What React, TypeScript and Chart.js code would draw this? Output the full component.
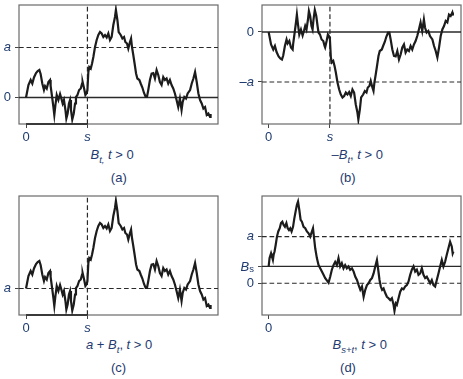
import React, { useEffect, useRef } from "react";
import { Chart, registerables } from "chart.js";

Chart.register(...registerables);

// ---- data ----
// Brownian path B_t used in panels (a), (b), (c); t in [0, 100], value in units of a
const PATH_T = [0,1.3,2.5,3.4,4.3,5.4,6.3,7.2,7.9,8.8,9.7,10.3,11.2,12.1,13,13.3,14.1,14.8,15.3,15.9,16.6,17.5,18.4,19.1,19.8,20.5,21.3,21.8,22.5,23.2,23.8,24.3,25,25.8,26.5,27,27.8,28.7,29.6,30.3,30.6,31.4,32.1,32.8,33.2,33.7,34.2,35,35.7,36.4,37.3,38.2,39.1,40,40.9,41.8,42.7,43.6,44.5,45.4,46.3,47.2,48.1,48.6,49.4,50.1,51.2,52.1,53,53.7,54.6,55.3,56.2,56.8,57.3,58,58.7,59.5,60.2,61.3,62,62.9,63.8,64.7,65.4,66.1,67,67.9,68.8,69.7,70.6,71.5,72.4,73.3,74.2,75.1,76,76.9,77.8,78.7,79.6,80.5,81.4,82.3,83.2,84.1,84.7,85.6,86.5,87.4,88.7,89.6,90.5,91.4,92.3,93.2,94.1,95,95.9,96.8,97.7,98.6,99.5,99.8];
const PATH_B = [0,0.25,0.35,0.28,0.40,0.49,0.53,0.55,0.47,0.28,0.15,0.23,0.18,0.31,0.35,0.23,0.01,-0.19,-0.35,-0.15,0.05,-0.05,0.07,-0.02,-0.12,-0.05,-0.25,-0.42,-0.32,-0.12,-0.05,-0.25,-0.44,-0.32,-0.12,0.01,0.05,0.15,0.18,0.28,0.31,0.18,0.05,0.09,0.15,0.51,0.61,0.58,0.68,0.81,1.01,1.15,1.25,1.31,1.28,1.21,1.25,1.20,1.28,1.15,1.21,1.45,1.61,1.75,1.55,1.31,1.25,1.18,1.21,1.11,1.08,0.98,1.11,1.18,1.01,0.85,0.68,0.48,0.38,0.35,0.28,0.20,0.09,0.01,0.01,0.15,0.35,0.48,0.49,0.38,0.55,0.45,0.31,0.25,0.41,0.35,0.38,0.28,0.35,0.25,0.18,0.08,-0.05,-0.19,-0.02,-0.25,-0.09,0.01,-0.02,0.08,0.15,0.28,0.38,0.51,0.31,0.08,-0.05,-0.12,-0.22,-0.19,-0.35,-0.32,-0.39,-0.33];

// Path B_{s+t} of panel (d)
const D_T = [0,0.5,1.3,1.8,2.3,2.7,3.2,3.8,4.5,5.2,6,6.7,7.4,8.1,8.8,9.6,10.3,11,11.7,12.4,13.2,13.9,14.6,15.3,15.9,16.6,17.3,18,18.9,19.8,20.7,21.6,22.5,23.4,24,24.5,25.2,26.1,27,27.9,28.8,29.7,30.6,31.5,32.4,33.3,34.2,35.1,36,36.9,37.8,38.7,39.6,40.5,41.4,42.3,43.2,44.1,45.1,46,46.9,47.8,48.7,49.6,50.5,51.4,52.3,53.2,54.1,55,55.9,56.8,57.7,58.6,59.3,60,60.7,61.4,62.2,63.1,64,64.9,65.8,66.7,67.6,68.1,68.8,69.4,70.3,71.2,72.1,73,73.9,74.8,75.7,76.6,77.5,78.4,79.3,80.2,81.1,82,82.9,83.8,84.7,85.6,86.5,87.4,88.3,89.2,90.1,91,91.9,92.8,93.7,94.6,95.5,96.4,97.3,98.2,99.1,99.6,100];
const D_V = [0.36,0.54,0.64,0.57,0.50,0.61,0.68,0.82,1.00,1.11,1.18,1.29,1.32,1.25,1.21,1.29,1.18,1.14,1.18,1.11,1.21,1.39,1.54,1.68,1.75,1.57,1.36,1.32,1.21,1.18,1.11,1.07,1.00,1.11,1.18,1.00,0.75,0.54,0.39,0.32,0.25,0.18,0.11,0.06,0.01,0.14,0.29,0.39,0.46,0.39,0.54,0.36,0.43,0.32,0.39,0.32,0.36,0.29,0.32,0.25,0.14,0.07,-0.04,-0.14,-0.07,-0.29,-0.14,-0.04,0.00,0.07,0.11,0.21,0.36,0.50,0.29,0.07,-0.07,-0.14,-0.11,-0.21,-0.29,-0.32,-0.36,-0.32,-0.46,-0.59,-0.43,-0.46,-0.32,-0.18,-0.11,-0.13,-0.07,-0.04,0.04,0.18,0.29,0.36,0.25,0.29,0.18,0.21,0.32,0.18,0.11,0.14,0.07,0.00,0.07,-0.04,-0.07,0.07,0.21,0.36,0.50,0.36,0.46,0.61,0.75,0.89,0.79,0.64,0.68];

const S = 33.2; // time s
const A = 1; // level a
const BS = 0.36; // level B_s in panel (d)

const X_TICKS_S = [0, S];
const X_LABELS_S = ["0", "s"];
const X_TICKS_D = [0];
const X_LABELS_D = ["0"];
const Y_TICKS_A = [0, A];
const Y_LABELS_A = ["0", "a"];
const Y_TICKS_B = [0, -A];
const Y_LABELS_B = ["0", "\u2013a"];
const Y_TICKS_C = [A];
const Y_LABELS_C = ["a"];
const Y_TICKS_D = [0, BS, A];
const Y_LABELS_D = ["0", "", "a"];

const FONT = '"Liberation Sans", Arial, Helvetica, sans-serif';
const NAVY = "#1f3b6f";
const INK = "#1c1c1c";

const zip = (t: number[], v: number[]) => t.map((x, i) => ({ x, y: v[i] }));

type PanelCfg = {
  left: number; top: number; w: number; h: number;
  yW: number; padTop: number; padRight: number; xH: number;
  xMin: number; xMax: number; yMin: number; yMax: number;
  t: number[]; v: number[];
  solid: number[]; dashed: number[]; vDash?: number; seg?: boolean;
  yTicks: number[]; yLabels: string[]; xTicks: number[]; xLabels: string[];
  subLabel?: boolean;
};

const PANELS: PanelCfg[] = [
  {
    left: 0, top: 0, w: 231, h: 145, yW: 19, padTop: 5, padRight: 13, xH: 21,
    xMin: -3.8, xMax: 103.8, yMin: -0.53, yMax: 1.85,
    t: PATH_T, v: PATH_B, solid: [0], dashed: [A], vDash: S, seg: true,
    yTicks: Y_TICKS_A, yLabels: Y_LABELS_A, xTicks: X_TICKS_S, xLabels: X_LABELS_S,
  },
  {
    left: 232, top: 0, w: 231, h: 145, yW: 30, padTop: 5, padRight: 2, xH: 21,
    xMin: -3.6, xMax: 104.2, yMin: -1.84, yMax: 0.54,
    t: PATH_T, v: PATH_B.map((b) => -b), solid: [0], dashed: [-A], vDash: S,
    yTicks: Y_TICKS_B, yLabels: Y_LABELS_B, xTicks: X_TICKS_S, xLabels: X_LABELS_S,
  },
  {
    left: 0, top: 190, w: 231, h: 145, yW: 19, padTop: 6, padRight: 13, xH: 20,
    xMin: -3.8, xMax: 103.8, yMin: A - 0.53, yMax: A + 1.85,
    t: PATH_T, v: PATH_B.map((b) => A + b), solid: [], dashed: [A], vDash: S, seg: true,
    yTicks: Y_TICKS_C, yLabels: Y_LABELS_C, xTicks: X_TICKS_S, xLabels: X_LABELS_S,
  },
  {
    left: 232, top: 190, w: 231, h: 145, yW: 30, padTop: 6, padRight: 2, xH: 20,
    xMin: -3.6, xMax: 104.1, yMin: -0.68, yMax: 1.87,
    t: D_T, v: D_V, solid: [BS], dashed: [A, 0],
    yTicks: Y_TICKS_D, yLabels: Y_LABELS_D, xTicks: X_TICKS_D, xLabels: X_LABELS_D,
    subLabel: true,
  },
];

const noPad = (scale: any) => {
  scale.paddingTop = 0;
  scale.paddingBottom = 0;
  scale.paddingLeft = 0;
  scale.paddingRight = 0;
};

function Panel({ cfg }: { cfg: PanelCfg }) {
  const ref = useRef<HTMLCanvasElement | null>(null);
  useEffect(() => {
    if (!ref.current) return;
    const datasets: any[] = [];
    datasets.push({
      data: zip(cfg.t, cfg.v),
      borderColor: INK,
      borderWidth: 2.2,
      pointRadius: 0,
      tension: 0,
      borderJoinStyle: "miter",
      order: 0,
    });
    cfg.solid.forEach((y) =>
      datasets.push({
        data: [{ x: cfg.xMin, y }, { x: cfg.xMax, y }],
        borderColor: "#2a2a2a", borderWidth: 1.3, pointRadius: 0, order: 1,
      })
    );
    cfg.dashed.forEach((y) =>
      datasets.push({
        data: [{ x: cfg.xMin, y }, { x: cfg.xMax, y }],
        borderColor: "#2a2a2a", borderWidth: 1.2, borderDash: [4.7, 2.8], pointRadius: 0, order: 1,
      })
    );
    if (cfg.vDash !== undefined) {
      datasets.push({
        data: [{ x: cfg.vDash, y: cfg.yMin }, { x: cfg.vDash, y: cfg.yMax }],
        borderColor: "#2a2a2a", borderWidth: 1.2, borderDash: [4.7, 2.8], pointRadius: 0, order: 1,
      });
    }
    if (cfg.seg) {
      datasets.push({
        data: [{ x: 0, y: cfg.yMin }, { x: S, y: cfg.yMin }],
        borderColor: "#3a3a3a", borderWidth: 2, pointRadius: 0, order: 1, clip: false,
      });
    }

    const framePlugin = {
      id: "frame",
      beforeDatasetsDraw(chart: any) {
        const { ctx, chartArea: ca } = chart;
        ctx.save();
        ctx.strokeStyle = "#6a6a6a";
        ctx.lineWidth = 1.2;
        ctx.strokeRect(ca.left, ca.top, ca.right - ca.left, ca.bottom - ca.top);
        ctx.restore();
      },
      afterDraw(chart: any) {
        if (!cfg.subLabel) return;
        const { ctx, chartArea: ca } = chart;
        const y = chart.scales.y.getPixelForValue(BS);
        const xr = ca.left - 8;
        ctx.save();
        ctx.fillStyle = NAVY;
        ctx.textAlign = "left";
        ctx.textBaseline = "alphabetic";
        ctx.font = `9.5px ${FONT}`;
        const sw = ctx.measureText("s").width;
        ctx.font = `italic 13px ${FONT}`;
        const bw = ctx.measureText("B").width;
        ctx.fillText("B", xr - sw - bw, y + 4.5);
        ctx.font = `9.5px ${FONT}`;
        ctx.fillText("s", xr - sw, y + 6);
        ctx.restore();
      },
    };

    const tickFont = (ctx: any) => ({
      family: FONT,
      size: 13,
      style: ctx.tick && ctx.tick.value !== 0 ? "italic" : "normal",
    });

    const chart = new Chart(ref.current, {
      type: "line",
      data: { datasets },
      options: {
        responsive: false,
        animation: false,
        events: [],
        layout: { padding: { left: 0, top: cfg.padTop, right: cfg.padRight, bottom: 0 }, autoPadding: false },
        plugins: { legend: { display: false }, tooltip: { enabled: false } },
        scales: {
          x: {
            type: "linear",
            min: cfg.xMin,
            max: cfg.xMax,
            border: { display: false },
            grid: { display: true, drawOnChartArea: false, drawTicks: true, tickLength: 4, color: "#444", lineWidth: 1 },
            afterBuildTicks: (scale: any) => {
              scale.ticks = cfg.xTicks.map((v) => ({ value: v }));
            },
            afterFit: (scale: any) => {
              scale.height = cfg.xH;
              noPad(scale);
            },
            ticks: {
              autoSkip: false,
              maxRotation: 0,
              padding: 2,
              color: NAVY,
              font: tickFont,
              callback: (value: any) => {
                const i = cfg.xTicks.indexOf(value);
                return i >= 0 ? cfg.xLabels[i] : "";
              },
            },
          },
          y: {
            type: "linear",
            min: cfg.yMin,
            max: cfg.yMax,
            border: { display: false },
            grid: { display: true, drawOnChartArea: false, drawTicks: true, tickLength: 4, color: "#444", lineWidth: 1 },
            afterBuildTicks: (scale: any) => {
              scale.ticks = cfg.yTicks.map((v) => ({ value: v }));
            },
            afterFit: (scale: any) => {
              scale.width = cfg.yW;
              noPad(scale);
            },
            ticks: {
              autoSkip: false,
              padding: 4,
              color: NAVY,
              font: tickFont,
              callback: (value: any) => {
                const i = cfg.yTicks.indexOf(value);
                return i >= 0 ? cfg.yLabels[i] : "";
              },
            },
          },
        },
      } as any,
      plugins: [framePlugin],
    });
    return () => chart.destroy();
  }, [cfg]);

  return (
    <canvas
      ref={ref}
      width={cfg.w}
      height={cfg.h}
      style={{ position: "absolute", left: cfg.left, top: cfg.top, width: cfg.w, height: cfg.h }}
    />
  );
}

const capStyle = (left: number, cy: number): React.CSSProperties => ({
  position: "absolute",
  left,
  top: cy - 8,
  fontFamily: FONT,
  fontSize: 13,
  lineHeight: "16px",
  color: NAVY,
  whiteSpace: "nowrap",
});

const Sub = ({ children }: { children: React.ReactNode }) => (
  <span style={{ fontSize: 9.5, position: "relative", top: 3.5, fontStyle: "italic" }}>{children}</span>
);

const Tag = ({ cx, cy, text }: { cx: number; cy: number; text: string }) => (
  <div style={{ ...capStyle(cx, cy), transform: "translateX(-50%)" }}>{text}</div>
);

export default function App() {
  return (
    <div style={{ position: "absolute", left: 0, top: 0, width: 463, height: 379, background: "#fff", overflow: "hidden" }}>
      {PANELS.map((p, i) => (
        <Panel key={i} cfg={p} />
      ))}
      <div style={capStyle(90.5, 155)}>
        <i>B</i><Sub>t,</Sub> <i>t</i> &gt; 0
      </div>
      <Tag cx={118.8} cy={178} text="(a)" />
      <div style={capStyle(331.5, 155)}>
        {"\u2013"}<i>B</i><Sub>t</Sub>, <i>t</i> &gt; 0
      </div>
      <Tag cx={347.6} cy={178} text="(b)" />
      <div style={capStyle(86, 345)}>
        <i>a</i> + <i>B</i><Sub>t</Sub>, <i>t</i> &gt; 0
      </div>
      <Tag cx={118.5} cy={368} text="(c)" />
      <div style={capStyle(332.5, 345)}>
        <i>B</i><Sub>s+t</Sub>, <i>t</i> &gt; 0
      </div>
      <Tag cx={348} cy={368} text="(d)" />
    </div>
  );
}
